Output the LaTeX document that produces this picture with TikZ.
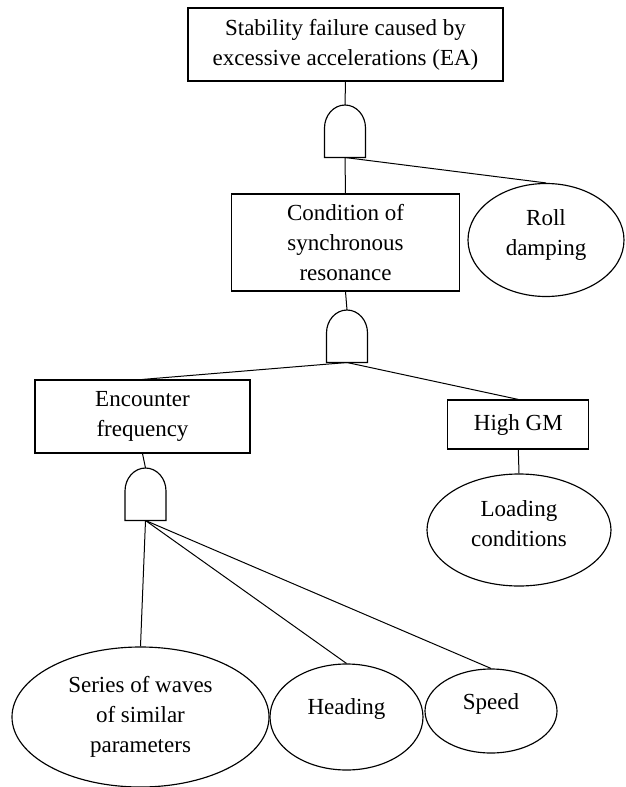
\documentclass[tikz,border=0pt]{standalone}
\usepackage{fontspec}
\setmainfont{Liberation Serif}
\usetikzlibrary{shapes.geometric}
% extra depth below the last line, to lift text inside an ellipse
\newcommand\lowerpad[1]{\rule[-#1]{0pt}{1pt}}
\begin{document}
\begin{tikzpicture}[x=1pt,y=-1pt,line width=1.15pt,
  every node/.style={font=\fontsize{23}{30}\selectfont, align=center, inner sep=0pt},
  event/.style={draw, rectangle},
  basic/.style={draw, ellipse},
  link/.style={draw, line width=1pt},
  pics/andgate/.style={code={
    \draw (-20.5,52.5) -- (-20.5,23)
      .. controls (-20.5,10.3) and (-11.3,0) .. (0,0)
      .. controls (11.3,0) and (20.5,10.3) .. (20.5,23)
      -- (20.5,52.5) -- cycle;
    \coordinate (-in) at (0,0);
    \coordinate (-out) at (0,52.5);
  }}]
\useasboundingbox (0,0) rectangle (626,787);

% events
\node[event, minimum width=315, minimum height=73] (top) at (345.5,44.5)
  {Stability failure caused by\\excessive accelerations (EA)};
\node[event, minimum width=228, minimum height=97] (sync) at (345.5,242.5)
  {Condition of\\synchronous\\resonance};
\node[event, minimum width=215, minimum height=73] (enc) at (142.5,416.5)
  {Encounter\\frequency};
\node[event, minimum width=141, minimum height=49] (gm) at (518.3,424.5)
  {High GM};

% basic events
\node[basic, minimum width=156, minimum height=113] (roll) at (546,240)
  {Roll\\damping\lowerpad{15pt}};
\node[basic, minimum width=184, minimum height=112] (load) at (519,530)
  {Loading\\conditions\lowerpad{13pt}};
\node[basic, minimum width=257, minimum height=140] (waves) at (140.5,717)
  {Series of waves\\of similar\\parameters};
\node[basic, minimum width=153, minimum height=106] (head) at (346.5,717)
  {Heading\lowerpad{21pt}};
\node[basic, minimum width=132, minimum height=84] (speed) at (491,711)
  {Speed\lowerpad{19pt}};

% AND gates
\pic (g1) at (345,105) {andgate};
\pic (g2) at (347,310) {andgate};
\pic (g3) at (145.5,468) {andgate};

% connectors
\draw[link] (top.south) -- (g1-in);
\draw[link] (g1-out) -- (sync.north);
\draw[link] (g1-out) -- (roll.north);
\draw[link] (sync.south) -- (g2-in);
\draw[link] (g2-out) -- (enc.north);
\draw[link] (g2-out) -- (gm.north);
\draw[link] (gm.south) -- (load.north);
\draw[link] (enc.south) -- (g3-in);
\draw[link] (g3-out) -- (waves.north);
\draw[link] (g3-out) -- (head.north);
\draw[link] (g3-out) -- (speed.north);
\end{tikzpicture}
\end{document}
